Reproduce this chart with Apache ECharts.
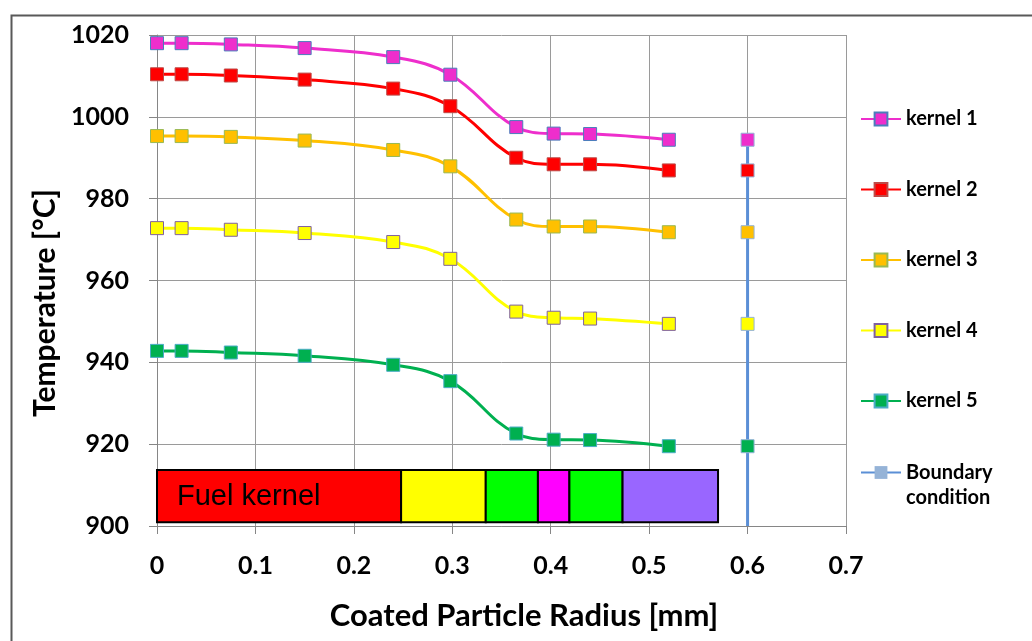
<!DOCTYPE html>
<html><head><meta charset="utf-8">
<script src="https://cdn.jsdelivr.net/npm/echarts@6/dist/echarts.min.js"></script>
<style>html,body{margin:0;padding:0;background:#fff}#c{width:1032px;height:641px}</style>
</head><body><div id="c"></div>
<script>
// ---- data ----
const radius  = [0, 0.025, 0.075, 0.15, 0.24, 0.298, 0.365, 0.403, 0.44, 0.52];
const kernel1 = [1018.0, 1018.0, 1017.7, 1016.8, 1014.6, 1010.3, 997.5, 995.9, 995.8, 994.4];
const kernel2 = [1010.4, 1010.4, 1010.1, 1009.1, 1006.9, 1002.6, 990.0, 988.4, 988.4, 986.9];
const kernel3 = [995.3, 995.3, 995.1, 994.2, 991.9, 987.9, 974.9, 973.2, 973.2, 971.8];
const kernel4 = [972.8, 972.8, 972.4, 971.6, 969.4, 965.3, 952.4, 950.9, 950.7, 949.4];
const kernel5 = [942.8, 942.8, 942.4, 941.6, 939.4, 935.4, 922.6, 921.1, 921.0, 919.5];
const kernelNames = ['kernel 1', 'kernel 2', 'kernel 3', 'kernel 4', 'kernel 5'];
const boundaryName = 'Boundary condition';
const boundaryX = 0.6;
const boundaryBase = 900;
const boundaryValues = [994.4, 986.9, 971.8, 949.4, 919.5]; // kernel 1..5 at the boundary
const layerEdges = [0, 0.248, 0.334, 0.387, 0.419, 0.473, 0.57];
const layerLabels = ['Fuel kernel', '', '', '', '', ''];
const layerBand = [900.9, 913.7];
const xMin = 0, xMax = 0.7, xStep = 0.1;
const yMin = 900, yMax = 1020, yStep = 20;

// ---- styles ----
const kernelColors = ['#EE2ECC', '#FF0000', '#FFC000', '#FFFF00', '#00B050'];
const kernelBorders = ['#4A7EBB', '#BE4B48', '#98B954', '#7F60A0', '#4BACC6'];
const layerColors = ['#FF0000', '#FFFF00', '#00FF00', '#FF00FF', '#00FF00', '#9966FF'];
const bcLine = '#5B8FD6', bcMarker = '#95B3D7';
const FONT = 'Lato';

const kernelData = [kernel1, kernel2, kernel3, kernel4, kernel5];
const series = kernelData.map((vals, k) => ({
  name: kernelNames[k], type: 'line', smooth: 0.4,
  data: radius.map((x, j) => [x, vals[j]]),
  symbol: 'rect', symbolSize: 13,
  lineStyle: { width: 3, color: kernelColors[k] },
  itemStyle: { color: kernelColors[k], borderColor: kernelBorders[k], borderWidth: 1 },
  z: 3, animation: false
}));

const bcData = [{ value: [boundaryX, boundaryBase], symbol: 'none' }];
for (let k = boundaryValues.length - 1; k >= 0; k--) {
  bcData.push({ value: [boundaryX, boundaryValues[k]], itemStyle: { color: kernelColors[k], borderColor: bcMarker, borderWidth: 1 } });
}
series.push({
  name: boundaryName, type: 'line', data: bcData,
  symbol: 'rect', symbolSize: 13,
  lineStyle: { width: 3, color: bcLine },
  itemStyle: { color: bcMarker, borderColor: bcMarker, borderWidth: 0 },
  z: 4, animation: false
});

series.push({
  type: 'custom', name: 'layers', silent: true, animation: false, z: 2,
  data: layerLabels.map((lab, i) => [layerEdges[i], layerEdges[i + 1], layerBand[0], layerBand[1], i]),
  encode: { x: [0, 1], y: [2, 3] },
  renderItem(params, api) {
    const p0 = api.coord([api.value(0), api.value(3)]);
    const p1 = api.coord([api.value(1), api.value(2)]);
    const i = api.value(4);
    const children = [{
      type: 'rect',
      shape: { x: p0[0], y: p0[1], width: p1[0] - p0[0], height: p1[1] - p0[1] },
      style: { fill: layerColors[i], stroke: '#000', lineWidth: 2 }
    }];
    if (layerLabels[i]) {
      children.push({
        type: 'text',
        style: { text: layerLabels[i], x: p0[0] + 20, y: (p0[1] + p1[1]) / 2 + 1,
          align: 'left', verticalAlign: 'middle', font: '29px "Liberation Sans"', fill: '#000' }
      });
    }
    return { type: 'group', children };
  }
});

const chart = echarts.init(document.getElementById('c'), null, { renderer: 'canvas' });
chart.setOption({
  backgroundColor: '#fff',
  animation: false,
  grid: { left: 157, right: 186, top: 35, bottom: 115 },
  graphic: [{
    type: 'rect', left: 9, top: 13, z: 100, silent: true,
    shape: { width: 1040, height: 640 },
    style: { fill: 'none', stroke: '#595959', lineWidth: 2 }
  }],
  xAxis: {
    type: 'value', min: xMin, max: xMax, interval: xStep,
    name: 'Coated Particle Radius [mm]', nameLocation: 'middle', nameGap: 74,
    nameTextStyle: { fontFamily: FONT, fontWeight: 'bold', fontSize: 31, color: '#000', padding: [0, 0, 0, 45] },
    axisLine: { show: true, lineStyle: { color: '#868686', width: 1 } },
    axisTick: { show: true, length: 8, lineStyle: { color: '#868686' } },
    axisLabel: { margin: 27, fontFamily: FONT, fontWeight: 'bold', fontSize: 25, color: '#000',
      formatter: v => String(v) },
    splitLine: { show: true, lineStyle: { color: '#9A9A9A', width: 1 } }
  },
  yAxis: {
    type: 'value', min: yMin, max: yMax, interval: yStep,
    name: 'Temperature [°C]', nameLocation: 'middle', nameGap: 92, nameRotate: 90,
    nameTextStyle: { fontFamily: FONT, fontWeight: 'bold', fontSize: 30, color: '#000', padding: [0, 45, 0, 0] },
    axisLine: { show: true, lineStyle: { color: '#868686', width: 1 } },
    axisTick: { show: true, length: 8, lineStyle: { color: '#868686' } },
    axisLabel: { margin: 28, fontFamily: FONT, fontWeight: 'bold', fontSize: 25, color: '#000',
      formatter: v => String(v) },
    splitLine: { show: true, lineStyle: { color: '#9A9A9A', width: 1 } }
  },
  legend: [{
    data: kernelNames, orient: 'vertical', left: 860, top: 109, padding: 0,
    itemWidth: 40, itemHeight: 16, itemGap: 50.5, selectedMode: false,
    textStyle: { fontFamily: FONT, fontWeight: 'bold', fontSize: 20, color: '#000' }
  }, {
    data: [boundaryName], orient: 'vertical', left: 860, top: 435, padding: 0,
    itemWidth: 40, itemHeight: 16, selectedMode: false,
    formatter: () => '\nBoundary\ncondition',
    textStyle: { fontFamily: FONT, fontWeight: 'bold', fontSize: 20, color: '#000', lineHeight: 25 }
  }],
  series
});
</script></body></html>
